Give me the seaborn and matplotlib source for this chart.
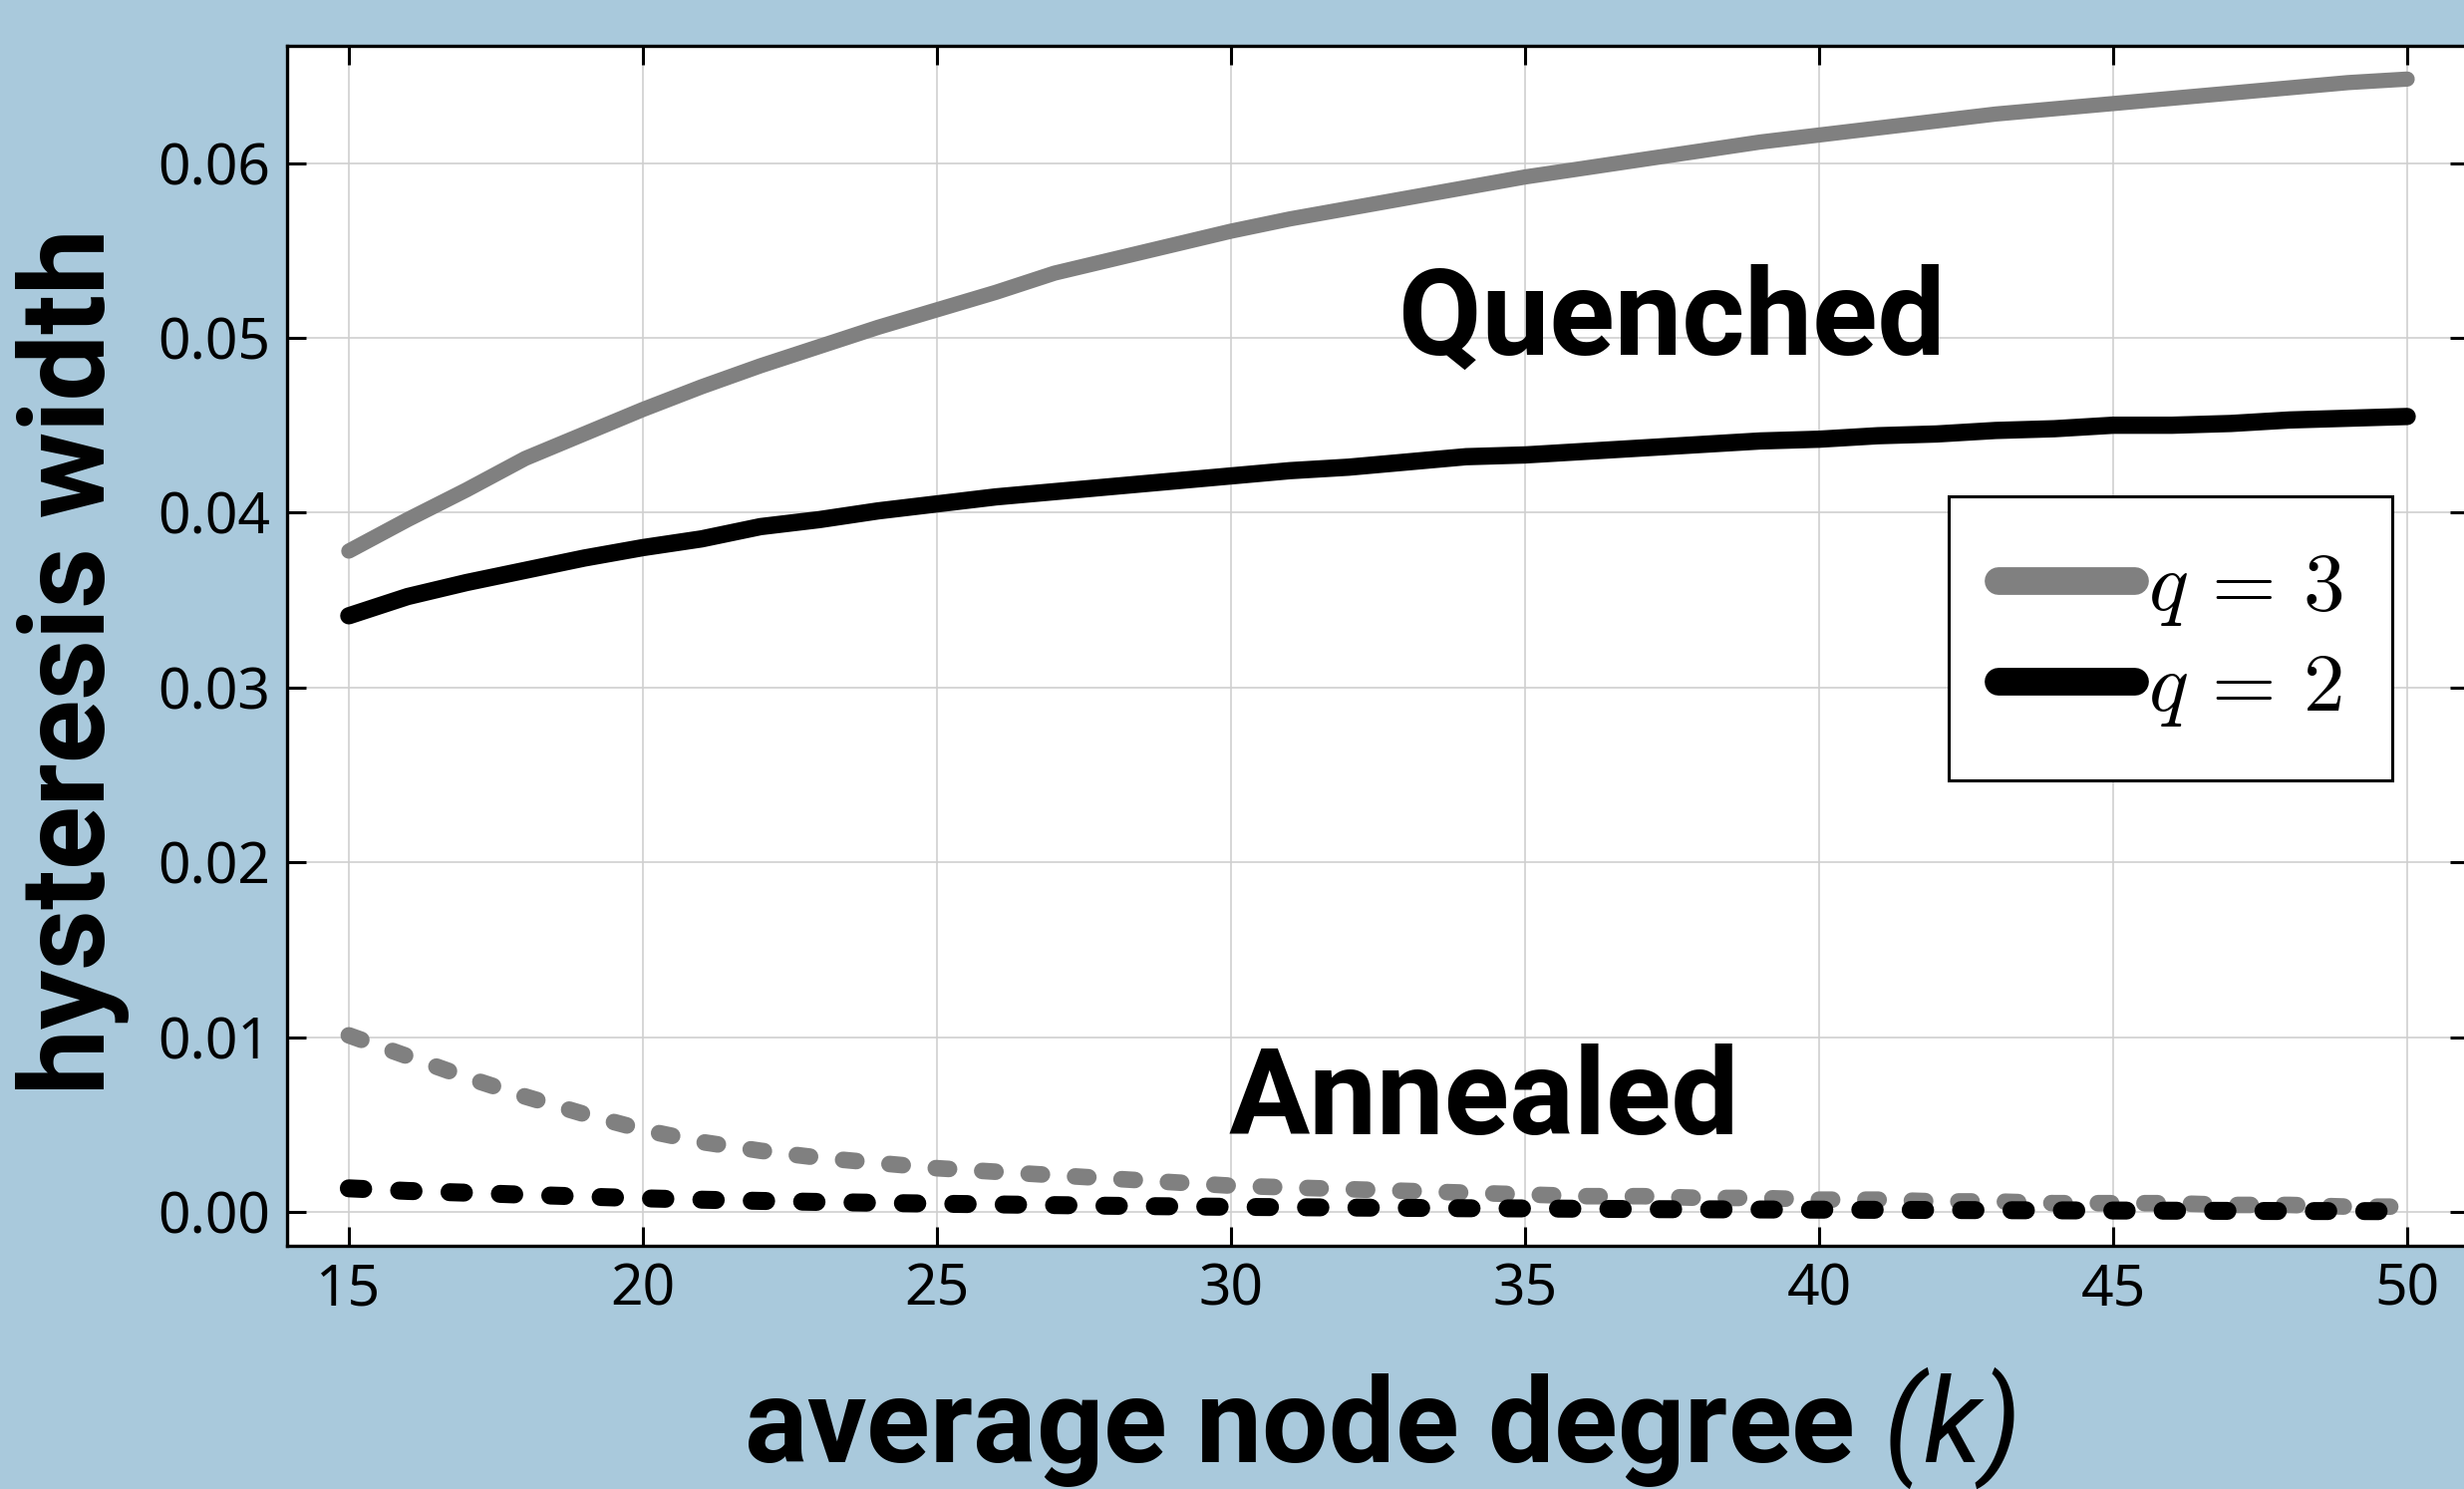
import numpy as np
import pandas as pd
import seaborn as sns
import matplotlib.pyplot as plt
from matplotlib.lines import Line2D

# Data.
k = list(range(15, 51))

quenched_q3 = [0.0378, 0.0396, 0.0413, 0.0431, 0.0445, 0.0459, 0.0472, 0.0484, 0.0495, 0.0506,
               0.0516, 0.0526, 0.0537, 0.0545, 0.0553, 0.0561, 0.0568, 0.0574, 0.0580, 0.0586,
               0.0592, 0.0597, 0.0602, 0.0607, 0.0612, 0.0616, 0.0620, 0.0624, 0.0628, 0.0631,
               0.0634, 0.0637, 0.0640, 0.0643, 0.0646, 0.0648]
quenched_q2 = [0.0341, 0.0352, 0.0360, 0.0367, 0.0374, 0.0380, 0.0385, 0.0392, 0.0396, 0.0401,
               0.0405, 0.0409, 0.0412, 0.0415, 0.0418, 0.0421, 0.0424, 0.0426, 0.0429, 0.0432,
               0.0433, 0.0435, 0.0437, 0.0439, 0.0441, 0.0442, 0.0444, 0.0445, 0.0447, 0.0448,
               0.0450, 0.0450, 0.0451, 0.0453, 0.0454, 0.0455]
annealed_q3 = [0.0101, 0.0089, 0.0077, 0.0066, 0.0056, 0.0047, 0.0040, 0.0035, 0.0031, 0.0028,
               0.0025, 0.0023, 0.0021, 0.0019, 0.0017, 0.0015, 0.0014, 0.0013, 0.0012, 0.0011,
               0.0010, 0.0009, 0.0009, 0.0008, 0.0008, 0.0007, 0.0007, 0.0006, 0.0006, 0.0005,
               0.0005, 0.0005, 0.0004, 0.0004, 0.0003, 0.0003]
annealed_q2 = [0.00135, 0.0012, 0.0011, 0.00098, 0.00088, 0.00078, 0.0007, 0.00063, 0.00057, 0.00052,
               0.00047, 0.00043, 0.00039, 0.00035, 0.00032, 0.00029, 0.00027, 0.00025, 0.00023, 0.00021,
               0.0002, 0.00018, 0.00016, 0.00015, 0.00014, 0.00013, 0.00012, 0.00011, 0.0001, 0.00009,
               0.00008, 0.00007, 0.00006, 0.00005, 0.00005, 0.00004]

x_ticks = [15, 20, 25, 30, 35, 40, 45, 50]
y_ticks = [0.00, 0.01, 0.02, 0.03, 0.04, 0.05, 0.06]

# Setting plot properties.
sns.set_theme(style='whitegrid')
plt.rcParams['font.family'] = ['Noto Sans', 'DejaVu Sans']
plt.rcParams['mathtext.fontset'] = 'custom'
plt.rcParams['mathtext.it'] = 'Roboto:italic'
plt.rcParams['mathtext.rm'] = 'Roboto:italic'
plt.rcParams['text.color'] = 'black'
bg = '#a9c9dc'
bold_font = ['Roboto', 'DejaVu Sans']

fig = plt.figure(figsize=(24.72, 14.94), dpi=100, facecolor=bg)
ax = fig.add_axes([0.1165, 0.1633, 0.8855, 0.8059])
ax.set_facecolor('white')

sns.lineplot(x=k, y=quenched_q3, ax=ax, color='#808080', linewidth=11, solid_capstyle='round')
sns.lineplot(x=k, y=quenched_q2, ax=ax, color='black', linewidth=12.5, solid_capstyle='round')
sns.lineplot(x=k, y=annealed_q3, ax=ax, color='#808080', linewidth=12,
             linestyle=(0, (0.8, 2.0)), dash_capstyle='round')
sns.lineplot(x=k, y=annealed_q2, ax=ax, color='black', linewidth=13,
             linestyle=(0, (0.8, 2.0)), dash_capstyle='round')

# Configuring axis.
ax.set_xlim(13.95, 51.05)
ax.set_ylim(-0.00194, 0.0667)
ax.set_xticks(x_ticks)
ax.set_yticks(y_ticks)
ax.set_yticklabels([f'{v:.2f}' for v in y_ticks])
ax.grid(True, color='#cfcfcf', linewidth=1.2)
ax.tick_params(direction='in', length=14, width=2.2, labelsize=41, pad=12,
               top=True, right=True, bottom=True, left=True, colors='black')
for s in ax.spines.values():
    s.set_visible(True)
    s.set_color('black')
    s.set_linewidth(2.4)

ax.set_ylabel('hysteresis width', fontsize=85, fontweight='bold', color='black', family=bold_font)
ax.yaxis.label.set_va('center')
ax.yaxis.set_label_coords(-0.098, 0.487)
ax.set_xlabel(r'average node degree $(k)$', fontsize=85, fontweight='bold', color='black', family=bold_font)
ax.xaxis.label.set_va('center')
ax.xaxis.set_label_coords(0.5007, -0.152)

# Annotations.
ax.text(37.5, 0.0509, 'Quenched', fontsize=87, fontweight='bold', ha='center', va='center',
        color='black', family=bold_font)
ax.text(34.3, 0.0063, 'Annealed', fontsize=87, fontweight='bold', ha='center', va='center',
        color='black', family=bold_font)

# Legend.
handles = [Line2D([0], [0], color='#808080', lw=20, solid_capstyle='round'),
           Line2D([0], [0], color='black', lw=20, solid_capstyle='round')]
leg = ax.legend(handles, [r'$q\, =\, 3$', r'$q\, =\, 2$'], loc='upper right',
                bbox_to_anchor=(0.965, 0.6246), fontsize=60, frameon=True, fancybox=False,
                framealpha=1, edgecolor='black', handlelength=1.65, handletextpad=0.15,
                borderpad=0.6, borderaxespad=0, labelspacing=0.2)
leg.get_frame().set_linewidth(2.2)
for t in leg.get_texts():
    t.set_math_fontfamily('cm')
    t.set_color('black')

fig.savefig('out.png', dpi=100, facecolor=bg)
